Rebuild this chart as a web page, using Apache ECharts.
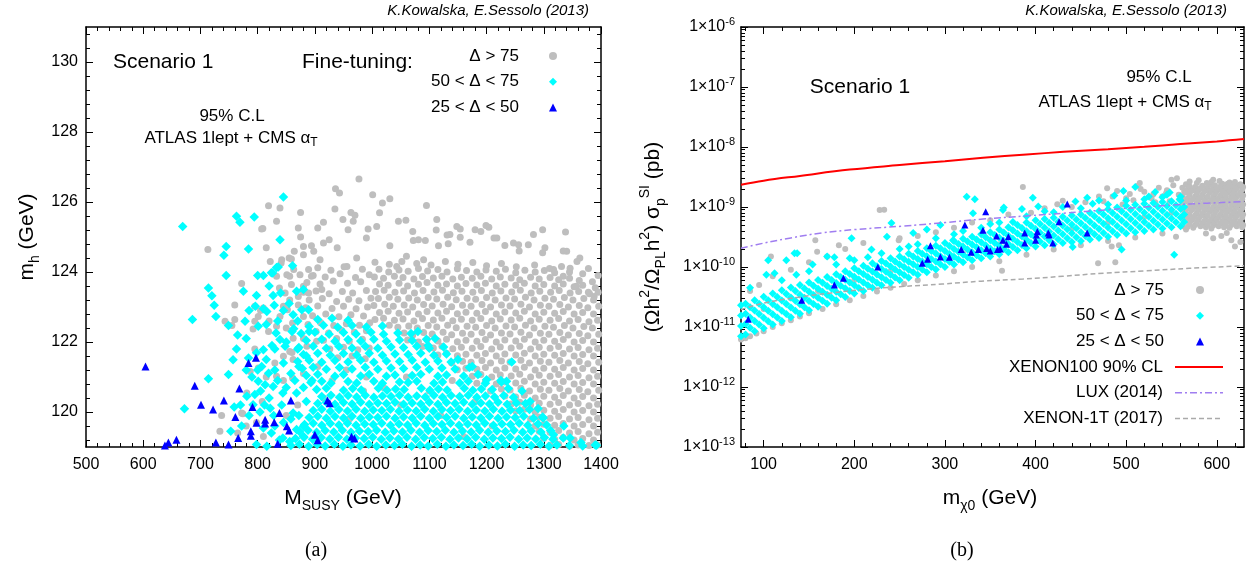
<!DOCTYPE html>
<html><head><meta charset="utf-8">
<script src="https://cdn.jsdelivr.net/npm/echarts@6/dist/echarts.min.js"></script>
<style>html,body{margin:0;padding:0;background:#fff}#c{width:1252px;height:566px}</style>
</head><body><div id="c"></div>
<script>
// ---------------- Panel (a): M_SUSY (GeV) vs m_h (GeV), flat x,y pairs ----------------
const a_grey = [
977,126.66,936,126.38,943,126.26,1001,126.21,1018,125.97,819,125.89,839,125.83,875,125.7,935,125.8,963,125.7,970,125.62,809,125.24,833,125.45,871,125.26,905,125.26,915,125.42,949,125.5,967,125.45,993,125.23,1008,125.3,713,124.64,815,124.69,875,125.0,898,124.59,925,124.92,958,125.21,990,124.97,842,124.35,859,124.37,822,124.3,851,123.92,880,124.49,863,124.07,889,124.07,909,124.35,939,124.69,956,124.16,973,124.4,772,123.67,760,123.06,743,122.59,760,122.64,792,122.37,838,123.54,852,122.92,871,123.3,737,119.9,734,119.45,774,119.95,787,121.16,1031,126.09,1013,125.69,1095,125.9,1046,125.45,1059,125.48,1113,125.5,1071,125.16,1081,124.92,1136,125.07,1154,125.23,1180,125.21,1190,125.16,1204,125.28,1218,124.97,1247,124.83,1282,125.07,1298,125.21,1338,125.14,1340,124.59,1363,124.4,1378,123.42,1388,123.3,1273,124.78,1302,124.69,1256,124.78,1171,124.85,1154,124.99,1133,124.81,1116,124.75,1090,124.35,1060,124.45,1031,124.75,1043,124.16,1317,124.07,1331,124.16,1346,124.11,1334,123.88,1357,123.59,1199,125.33,1213,124.97,1232,124.76,1257,124.6,1298,124.55,1334,124.6,1358,124.3,1112,125.2,1093,124.9,1072,124.9,1131,125.06,1148,125.3,1378,124.1,1395,123.9,
807,125.23,841,124.26,855,124.4,864,124.59,880,124.73,894,124.75,915,124.83,833,123.88,856,123.88,874,123.92,894,123.88,859,123.64,880,123.59,889,123.4,912,123.5,848,123.4,856,123.2,871,123.06,845,123.02,839,122.73,880,122.73,861,122.54,833,122.45,801,122.73,819,122.3,862,122.11,795,123.02,810,122.97,795,122.59,755,122.47,798,119.7,810,119.3,772,119.97,781,120.54,801,121.26,845,121.59,856,121.73,862,121.5,886,121.88,903,122.02,833,121.02,861,120.97,
905,124.12,928,124.05,951,124.15,983,124.08,897,123.9,918,123.86,944,123.95,971,123.84,995,123.92,886,123.7,909,123.66,932,123.74,957,123.68,980,123.72,880,123.42,902,123.46,925,123.38,948,123.44,966,123.4,990,123.47,890,123.2,913,123.24,938,123.16,959,123.22,977,123.18,998,123.25,884,122.98,905,123.03,930,122.96,950,123.02,972,122.95,992,123.0,896,122.75,919,122.8,942,122.72,963,122.78,985,122.74,888,122.5,910,122.55,933,122.47,955,122.52,978,122.48,996,122.55,902,122.3,924,122.26,947,122.33,969,122.28,990,122.32,915,122.05,938,122.1,960,122.02,983,122.08,926,121.8,950,121.85,975,121.78,995,121.83,940,121.55,965,121.6,988,121.52,
905,121.3,930,120.9,880,121.1,955,121.2,990,121.0,870,120.2,915,120.4,960,119.8,985,120.6,845,120.9,830,121.4,815,121.0,860,121.7,880,122.1,850,122.4,820,122.6,805,122.9,795,121.8,780,119.6,765,119.4,808,120.3,850,119.9,1020,120.7,1060,121.0,1100,120.6,1140,120.9,1050,120.2,1120,119.9,1180,120.3,1210,119.6,1160,119.3,
1005,124.28,1030,124.22,1052,124.3,1078,124.24,1103,124.2,1128,124.3,1150,124.22,1176,124.27,1200,124.18,1226,124.24,1252,124.15,1284,124.2,1310,124.1,
1012,124.08,1029,124.0,1047,124.06,1063,124.02,1081,124.1,1097,124.03,1115,124.07,1131,124.0,1149,124.09,1165,124.04,1183,124.0,1199,124.06,1217,124.02,1233,124.08,1251,123.98,1267,124.05,1285,124.0,1301,124.04,1319,123.98,1345,124.0,1368,123.95,
1004,123.86,1020,123.82,1039,123.88,1054,123.84,1073,123.8,1088,123.87,1107,123.83,1122,123.88,1141,123.8,1156,123.85,1175,123.82,1190,123.88,1209,123.8,1224,123.86,1243,123.83,1258,123.78,1277,123.85,1292,123.8,1311,123.84,1326,123.78,1345,123.82,1362,123.76,1385,123.72,
1013,123.66,1028,123.62,1047,123.68,1062,123.6,1081,123.65,1096,123.7,1115,123.62,1130,123.66,1149,123.6,1164,123.67,1183,123.63,1198,123.68,1217,123.6,1232,123.65,1251,123.62,1266,123.68,1285,123.6,1300,123.64,1319,123.6,1334,123.66,1353,123.58,1368,123.62,1390,123.55,
1006,123.44,1021,123.48,1040,123.42,1055,123.46,1074,123.4,1089,123.47,1108,123.43,1123,123.48,1142,123.41,1157,123.45,1176,123.42,1191,123.47,1210,123.4,1225,123.46,1244,123.43,1259,123.48,1278,123.4,1293,123.45,1312,123.42,1327,123.47,1346,123.4,1361,123.44,1380,123.38,1395,123.42,
1011,123.24,1030,123.28,1045,123.22,1064,123.26,1079,123.2,1098,123.27,1113,123.23,1132,123.28,1147,123.21,1166,123.25,1181,123.22,1200,123.27,1215,123.2,1234,123.26,1249,123.23,1268,123.28,1283,123.2,1302,123.25,1317,123.22,1336,123.27,1351,123.2,1370,123.24,1387,123.2,
1003,123.04,1022,123.08,1037,123.02,1056,123.06,1071,123.0,1090,123.07,1105,123.03,1124,123.08,1139,123.01,1158,123.05,1173,123.02,1192,123.07,1207,123.0,1226,123.06,1241,123.03,1260,123.08,1275,123.0,1294,123.05,1309,123.02,1328,123.07,1343,123.0,1362,123.04,1377,122.98,1396,123.02,
1013,122.84,1028,122.88,1047,122.82,1062,122.86,1081,122.8,1096,122.87,1115,122.83,1130,122.88,1149,122.81,1164,122.85,1183,122.82,1198,122.87,1217,122.8,1232,122.86,1251,122.83,1266,122.88,1285,122.8,1300,122.85,1319,122.82,1334,122.87,1353,122.8,1368,122.84,1387,122.8,
1005,122.64,1020,122.68,1039,122.62,1054,122.66,1073,122.6,1088,122.67,1107,122.63,1122,122.68,1141,122.61,1156,122.65,1175,122.62,1190,122.67,1209,122.6,1224,122.66,1243,122.63,1258,122.68,1277,122.6,1292,122.65,1311,122.62,1326,122.67,1345,122.6,1360,122.64,1379,122.58,1394,122.62,
1030,122.48,1045,122.42,1064,122.46,1079,122.4,1098,122.47,1113,122.43,1132,122.48,1147,122.41,1166,122.45,1181,122.42,1200,122.47,1215,122.4,1234,122.46,1249,122.43,1268,122.48,1283,122.4,1302,122.45,1317,122.42,1336,122.47,1351,122.4,1370,122.44,1385,122.4,
1056,122.26,1071,122.2,1090,122.27,1105,122.23,1124,122.28,1139,122.21,1158,122.25,1173,122.22,1192,122.27,1207,122.2,1226,122.26,1241,122.23,1260,122.28,1275,122.2,1294,122.25,1309,122.22,1328,122.27,1343,122.2,1362,122.24,1377,122.18,1396,122.22,
1062,122.06,1081,122.0,1096,122.07,1115,122.03,1130,122.08,1149,122.01,1164,122.05,1183,122.02,1198,122.07,1217,122.0,1232,122.06,1251,122.03,1266,122.08,1285,122.0,1300,122.05,1319,122.02,1334,122.07,1353,122.0,1368,122.04,1387,122.0,
1088,121.87,1107,121.83,1122,121.88,1141,121.81,1156,121.85,1175,121.82,1190,121.87,1209,121.8,1224,121.86,1243,121.83,1258,121.88,1277,121.8,1292,121.85,1311,121.82,1326,121.87,1345,121.8,1360,121.84,1379,121.78,1394,121.82,
1115,121.63,1130,121.68,1149,121.61,1164,121.65,1183,121.62,1198,121.67,1217,121.6,1232,121.66,1251,121.63,1266,121.68,1285,121.6,1300,121.65,1319,121.62,1334,121.67,1353,121.6,1368,121.64,1387,121.6,
1139,121.41,1158,121.45,1173,121.42,1192,121.47,1207,121.4,1226,121.46,1241,121.43,1260,121.48,1275,121.4,1294,121.45,1309,121.42,1328,121.47,1343,121.4,1362,121.44,1377,121.38,1396,121.42,
1149,121.21,1164,121.25,1183,121.22,1198,121.27,1217,121.2,1232,121.26,1251,121.23,1266,121.28,1285,121.2,1300,121.25,1319,121.22,1334,121.27,1353,121.2,1368,121.24,1387,121.2,
1175,121.02,1190,121.07,1209,121.0,1224,121.06,1243,121.03,1258,121.08,1277,121.0,1292,121.05,1311,121.02,1326,121.07,1345,121.0,1360,121.04,1379,120.98,1394,121.02,
1183,120.82,1198,120.87,1217,120.8,1232,120.86,1251,120.83,1266,120.88,1285,120.8,1300,120.85,1319,120.82,1334,120.87,1353,120.8,1368,120.84,1387,120.8,
1207,120.6,1226,120.66,1241,120.63,1260,120.68,1275,120.6,1294,120.65,1309,120.62,1328,120.67,1343,120.6,1362,120.64,1377,120.58,1396,120.62,
1232,120.46,1251,120.43,1266,120.48,1285,120.4,1300,120.45,1319,120.42,1334,120.47,1353,120.4,1368,120.44,1387,120.4,
1243,120.23,1258,120.28,1277,120.2,1292,120.25,1311,120.22,1326,120.27,1345,120.2,1360,120.24,1379,120.18,1394,120.22,
1251,120.03,1266,120.08,1285,120.0,1300,120.05,1319,120.02,1334,120.07,1353,120.0,1368,120.04,1387,120.0,
1277,119.8,1292,119.85,1311,119.82,1326,119.87,1345,119.8,1360,119.84,1379,119.78,1394,119.82,
1285,119.6,1300,119.65,1319,119.62,1334,119.67,1353,119.6,1368,119.64,1387,119.6,
1292,119.45,1311,119.42,1326,119.47,1345,119.4,1360,119.44,1379,119.38,1394,119.42,
1300,119.25,1319,119.22,1334,119.27,1353,119.2,1368,119.24,1387,119.2,
1311,119.05,1326,119.07,1345,119.03,1360,119.06,1379,119.04,1394,119.06
];
const a_cyan = [
669,125.3,686,122.64,672,120.09,714,123.54,720,123.32,724,123.05,727,122.73,714,120.95,745,124.73,741,124.48,745,123.9,749,122.47,749,121.07,759,120.14,753,119.45,763,125.59,769,125.42,794,125.57,784,124.66,775,123.45,778,122.59,763,121.8,757,121.49,798,123.33,801,122.45,796,123.02,810,123.9,826,123.97,836,124.14,839,124.92,845,126.14,861,124.18,827,123.33,829,123.05,810,122.95,816,122.87,832,122.26,839,122.07,848,121.88,810,121.78,798,121.69,784,121.54,830,121.8,862,122.78,868,123.45,880,123.5,877,122.92,889,122.92,863,122.38,807,121.3,819,121.11,801,120.88,813,120.78,827,120.73,844,120.54,781,120.45,792,120.21,804,120.0,822,120.11,810,119.54,824,119.4,798,119.07,816,119.02,844,119.26,856,119.16,862,119.97,880,119.59,868,120.54,824,123.98,833,124.13,
800,121.2,815,121.5,830,121.2,845,121.4,858,121.1,872,121.3,805,120.6,820,120.4,835,120.9,850,120.7,865,120.9,880,120.7,812,120.2,828,119.9,842,120.2,858,119.8,872,119.9,830,119.6,845,119.7,838,119.2,825,121.9,850,122.0,870,121.8,890,122.3,860,122.3,835,122.6,815,122.5,845,122.9,790,121.0,795,120.5,785,119.9,772,119.6,770,120.2,780,121.2,840,123.4,855,123.1,820,123.6,800,123.9,785,122.9,765,122.2,780,122.1,870,122.6,885,121.6,895,120.9,885,120.3,880,119.3,868,119.5,
858,119.04,873,119.08,889,119.02,904,119.07,918,119.03,934,119.08,949,119.02,963,119.06,979,119.03,994,119.08,1008,119.02,1024,119.06,1039,119.04,1053,119.08,1069,119.02,1084,119.06,1098,119.03,1114,119.08,1129,119.02,1143,119.06,1159,119.04,1174,119.08,1188,119.02,1204,119.06,1219,119.03,1233,119.08,1249,119.02,1264,119.06,1278,119.04,1294,119.08,1309,119.02,1323,119.06,1345,119.04,1368,119.03,1392,119.05,
866,119.24,881,119.28,896,119.22,911,119.27,926,119.23,941,119.28,956,119.22,971,119.26,986,119.24,1001,119.28,1016,119.22,1031,119.26,1046,119.23,1061,119.28,1076,119.22,1091,119.27,1106,119.24,1121,119.28,1136,119.22,1151,119.26,1166,119.23,1181,119.28,1196,119.22,1211,119.26,1226,119.24,1241,119.28,1256,119.22,1271,119.26,1286,119.23,1301,119.27,1316,119.22,1334,119.26,
873,119.44,888,119.48,903,119.42,918,119.47,933,119.43,948,119.48,963,119.42,978,119.46,993,119.44,1008,119.48,1023,119.42,1038,119.46,1053,119.43,1068,119.48,1083,119.42,1098,119.47,1113,119.44,1128,119.48,1143,119.42,1158,119.46,1173,119.43,1188,119.48,1203,119.42,1218,119.46,1233,119.44,1248,119.48,1263,119.42,1278,119.46,1295,119.43,1312,119.47,
882,119.64,897,119.68,912,119.62,927,119.67,942,119.63,957,119.68,972,119.62,987,119.66,1002,119.64,1017,119.68,1032,119.62,1047,119.66,1062,119.63,1077,119.68,1092,119.62,1107,119.67,1122,119.64,1137,119.68,1152,119.62,1167,119.66,1182,119.63,1197,119.68,1212,119.62,1227,119.66,1242,119.64,1257,119.68,1272,119.62,1290,119.66,1305,119.63,
890,119.84,905,119.88,920,119.82,935,119.87,950,119.83,965,119.88,980,119.82,995,119.86,1010,119.84,1025,119.88,1040,119.82,1055,119.86,1070,119.83,1085,119.88,1100,119.82,1115,119.87,1130,119.84,1145,119.88,1160,119.82,1175,119.86,1190,119.83,1205,119.88,1220,119.82,1235,119.86,1250,119.84,1265,119.88,1282,119.82,1298,119.86,
897,120.04,912,120.08,927,120.02,942,120.07,957,120.03,972,120.08,987,120.02,1002,120.06,1017,120.04,1032,120.08,1047,120.02,1062,120.06,1077,120.03,1092,120.08,1107,120.02,1122,120.07,1137,120.04,1152,120.08,1167,120.02,1182,120.06,1197,120.03,1212,120.08,1227,120.02,1242,120.06,1258,120.04,1275,120.07,
905,120.24,920,120.28,935,120.22,950,120.27,965,120.23,980,120.28,995,120.22,1010,120.26,1025,120.24,1040,120.28,1055,120.22,1070,120.26,1085,120.23,1100,120.28,1115,120.22,1130,120.27,1145,120.24,1160,120.28,1175,120.22,1190,120.26,1205,120.23,1220,120.28,1236,120.22,1252,120.26,1268,120.24,
912,120.44,928,120.48,943,120.42,958,120.47,973,120.43,988,120.48,1003,120.42,1018,120.46,1033,120.44,1048,120.48,1063,120.42,1078,120.46,1093,120.43,1108,120.48,1123,120.42,1138,120.47,1153,120.44,1168,120.48,1183,120.42,1198,120.46,1214,120.43,1230,120.47,1247,120.42,
903,120.64,920,120.68,950,120.62,966,120.67,981,120.63,1011,120.68,1026,120.62,1041,120.66,1056,120.64,1086,120.68,1101,120.62,1116,120.66,1131,120.63,1161,120.68,1176,120.62,1191,120.66,1210,120.64,1238,120.67,
893,120.84,912,120.88,928,120.82,958,120.87,973,120.83,1003,120.88,1018,120.82,1048,120.86,1063,120.84,1078,120.88,1108,120.82,1123,120.86,1153,120.83,1168,120.88,1198,120.82,1226,120.86,
885,121.04,905,121.08,935,121.02,950,121.07,980,121.03,995,121.08,1025,121.02,1040,121.06,1070,121.04,1085,121.08,1115,121.02,1130,121.06,1160,121.03,1185,121.07,
878,121.24,897,121.28,920,121.22,943,121.27,965,121.23,988,121.28,1010,121.22,1033,121.26,1055,121.24,1078,121.28,1100,121.22,1122,121.26,1145,121.23,1170,121.27,
870,121.44,890,121.48,912,121.42,935,121.47,958,121.43,980,121.48,1003,121.42,1025,121.46,1048,121.44,1070,121.48,1093,121.42,1115,121.46,1138,121.43,
880,121.64,905,121.68,927,121.62,950,121.67,973,121.63,995,121.68,1018,121.62,1040,121.66,1063,121.64,1085,121.68,1108,121.62,1130,121.66,
872,121.84,897,121.88,920,121.82,942,121.87,965,121.83,988,121.88,1010,121.82,1033,121.86,1055,121.84,1078,121.88,1100,121.82,1125,121.86,
885,122.04,912,122.08,935,122.02,958,122.07,980,122.03,1003,122.08,1025,122.02,1048,122.06,1070,122.04,1095,122.08,
876,122.24,900,122.28,925,122.22,950,122.27,972,122.23,998,122.28,1020,122.22,1045,122.26,1068,122.24,
890,122.44,915,122.48,940,122.42,965,122.47,990,122.43,1018,122.46,905,122.64,930,122.68,958,122.62,
1244,121.43,1276,120.3,1299,119.83,1317,119.35,1346,119.26,1365,119.13,1390,119.06,1335,119.6,1290,120.1,1262,120.6,1225,120.9,1200,120.92,1235,120.88,1150,121.5,1175,121.3,1098,121.9,1110,122.1,1080,122.3
];
const a_blue = [
604,121.3,690,120.75,701,120.21,722,120.07,741,120.33,768,120.67,761,119.86,784,121.4,797,121.55,791,120.14,798,119.69,813,119.78,813,119.67,829,119.71,838,119.97,858,120.33,851,119.59,855,119.47,788,119.45,788,119.32,766,119.26,727,119.13,749,119.07,658,119.21,644,119.13,638,119.04,835,119.09,900,119.35,905,119.19,922,120.33,926,120.25,964,119.29,969,119.24
];

// ---------------- Panel (b): m_chi0 (GeV) vs sigma, sigma in units of 1e-11 pb ----------------
const SIG_UNIT = 1e-11;
// columns: [mass, sigma values...]
const b_cyan_cols = [
[75,.7,1.04,1.55,2.3],[80,.75,1.12,1.66,2.45],[85,.97,1.44,2.14],[90,.85,1.26,1.88,2.8],[95,1.1,1.64,2.45],[100,.95,1.42,2.13,3.2],[105,1.25,1.86,2.78],[110,1.1,1.63,2.42,3.6],[115,1.44,2.13,3.16],[120,1.26,1.87,2.76,4.1],[125,1.64,2.41,3.55],[130,1.45,2.12,3.11,4.55],[135,1.87,2.73,3.98],[140,1.66,2.4,3.46,5.0],[145,2.13,3.06,4.38],[150,1.9,2.71,3.86,5.5],[155,2.42,3.43,4.87],[160,2.17,3.06,4.33,6.1],[165,2.73,3.86,5.44],[170,2.45,3.45,4.84,6.8],[175,3.08,4.33,6.08],[180,2.78,3.88,5.43,7.6],[185,3.51,4.89,6.82],[190,3.17,4.41,6.12,8.5],[195,3.98,5.52,7.64],[200,3.6,4.98,6.88,9.5],[205,4.47,6.17,8.5],[210,4.0,5.52,7.62,10.5],[215,4.98,6.84,9.39],[220,4.5,6.15,8.41,11.5],[225,5.49,7.51,10.3],[230,4.95,6.76,9.24,12.6],[235,6.08,8.31,11.4],[240,5.45,7.46,10.2,14],[245,6.66,9.09,12.4],[250,6,8.14,11.05,15],[255,7.35,9.97,13.5],[260,6.65,9.03,12.25,16.6],[265,8.16,11.07,15],[270,7.4,10.04,13.6,18.5],[275,9.09,12.33,16.7],[280,8.2,11.13,15.1,20.5],[285,10,13.6,18.4],[290,9.1,12.35,16.75,22.7],[295,11.13,15.1,20.5],[300,10,13.6,18.4,25],[305,12.2,16.5,22.4],[310,11,14.8,20,27],[315,13.3,17.9,24.2],[320,12,16.2,21.9,29.5],[325,14.5,19.6,26.5],[330,13,17.55,23.7,32],[335,15.7,21.3,28.8],[340,14,19,25.8,35],[345,16.9,23,31.3],[350,15,20.4,27.8,38],[355,18.3,25,34.2],[360,16.3,22.3,30.6,42],[365,19.9,27.4,37.6],[370,17.6,24.2,33.3,46],[375,21.5,29.6,40.9],[380,19,26.2,36.2,50],[385,23.2,32.1,44.6],[390,20.5,28.5,39.6,55],[395,25,34.9,48.7],[400,22,30.7,42.9,60],[405,26.6,37.2,52],[410,23,32.1,44.9,63],[415,27.8,38.9,54.5],[420,24,33.6,47.1,66],[425,29,40.7,57],[430,25,35,49.1,69],[435,30.2,42.4,59.5],[440,26,36.5,51.3,72],[445,31.4,44.2,62],[450,27,38,53.4,75],[455,33,46.4,65.3],[460,28.6,40.3,56.8,80],[465,35,49.4,69.9],[470,30.3,42.9,60.8,86],[475,37,52.6,74.7],[480,32,45.5,64.7,92],[485,39.4,56.1,79.6],[490,34,48.4,69,98],[495,41.8,59.6,85],[500,36,51.5,73.5,105],[505,44.2,63,89.8],[510,38,54,76.7,109],[515,46.4,65.7,93],[520,40,56.5,80,113],[525,48.7,68.7,96.8],[530,42,59.1,83.1,117],[535,51,71.6,100.5],[540,44,61.7,86.3,121],[545,53.2,74.3,104],[550,46,64.2,89.6,125],[555,55.5,77.2,107.3],[560,48,66.6,92.3,128],[564,56.5,75.1,99.8]
];
const b_cyan_extra = [
85,4.5,105,13,103,7.4,112,7.9,125,13,134,17,136,7.4,154,11,170,15,178,14.5,195,14,200,13,219,19.5,236,32,241,54,197,30,265,37,280,42,295,50,324,148,333,135,331,79,309,28,397,142,403,102,385,93,365,98,444,123,457,142,463,113,487,156,497,185,510,216,532,178,548,175,559,135,441,21.5,495,19.5,553,16,364,89,375,56,137,17,310,35,340,45,360,55,390,70,420,82,450,95,480,110,500,128,520,135,540,145,560,150,290,30,270,24,250,20,230,17,215,14.5,120,6,150,8.5,180,11,260,22,320,40,350,52,410,85,430,100,470,128,525,150,545,160
];
const b_grey_cols = [
[562,48,70,105,150,210],[564,58,85,125,180],[566,42,60,88,125,175,240],[568,47,68,98,140,200],[570,52,75,110,160,220],[572,60,88,130,185],[574,45,65,95,135,190],[576,50,72,104,150,215],[578,55,80,115,170,250],[580,62,90,132,190],[582,48,70,100,145,205],[584,53,76,110,160,225],[586,58,85,125,180],[588,46,66,95,138,195],[590,50,72,105,150,215],[592,57,83,120,172,240],[594,44,62,90,130,190,260],[596,49,70,100,145,205],[598,55,80,115,165,230],[600,62,90,130,185],[602,48,68,98,140,200],[604,53,75,108,155,220],[606,58,85,120,175,245],[608,46,66,96,136,195],[610,50,72,105,150,210],[612,58,84,122,175,245],[614,45,63,92,130,185,255],[616,50,72,104,150,210],[618,55,80,115,165,225],[620,62,90,130,185],[622,48,70,100,145,205],[624,53,77,110,158,225],[626,58,85,120,175,240],[628,46,66,95,135,195],[629,50,75,110,155,215]
];
const b_grey_extra = [
616,28,620,22,611,37,596,30,626,26,605,33,588,36,555,32,
550,285,556,300,570,265,589,250,596,285,614,230,626,232,603,270,580,280,620,262,479,205,490,185,504,165,515,250,530,163,430,127,424,111,386,215,513,226,545,190,540,150,500,140,470,150,455,120,440,100,410,95,395,80,370,75,350,60,330,55,310,45,290,38,270,33,250,30,233,90,228,89,210,25,190,20,170,15,157,28,150,12,130,9,110,7,108,15,95,5,85,4,183,23,159,18,249,28,520,180,528,140,536,210,544,170,552,230,558,160,548,125,532,120,516,200,508,130,496,110,485,150,475,125,
100,2.0,130,3.0,160,4.0,200,6.0,240,8.5,280,12,320,17,360,24,400,33,440,43,480,55,520,68,550,80,
75,.62,80,.65,85,.7,92,.78,100,.85,110,1.0,120,1.15,130,1.3,140,1.5,150,1.7,165,2.0,180,2.4,195,2.8,210,3.3,225,3.9,240,4.5,255,5.2,270,6.0,290,7.2,310,8.5,330,10,360,12.5,390,16,420,19.5,450,23,480,27,510,31,540,36,
363,8.7,469,11.5,488,12,484,22,492,23
];
const b_blue = [
83,1.35,142,2.8,178,5.0,188,6.5,226,10,275,11.6,281,13.5,284,22.5,295,14.7,305,14.5,318,19.5,322,50,329,17.6,337,19.5,342,41,345,83,346,20.4,350,18.5,357,33,358,19.5,361,20,364,28,368,24,370,32,388,25,401,34,400,28,388,37,402,39,414,37,415,34,419,25,426,57,435,112,457,37
];
// limit curves (pb)
const xenon100_x = [75,100,140,195,250,300,342,390,431,480,520,560,600,630];
const xenon100_y = [2.35e-9,2.75e-9,3.3e-9,4.2e-9,5.0e-9,5.8e-9,6.6e-9,7.5e-9,8.3e-9,9.2e-9,1.01e-8,1.12e-8,1.24e-8,1.36e-8];
const lux_x = [75,100,130,164,200,253,300,342,390,431,480,520,570,630];
const lux_y = [2.05e-10,2.5e-10,3.05e-10,3.7e-10,4.2e-10,4.8e-10,5.5e-10,6.3e-10,7.1e-10,7.9e-10,9.0e-10,1.0e-9,1.12e-9,1.23e-9];
const xenon1t_x = [75,100,142,175,209,250,297,340,386,430,475,520,570,630];
const xenon1t_y = [1.95e-11,2.5e-11,3.2e-11,3.7e-11,4.2e-11,4.7e-11,5.2e-11,5.8e-11,6.3e-11,7.0e-11,7.9e-11,8.6e-11,9.5e-11,1.05e-10];

// tick positions
const yTicksA = [120,122,124,126,128,130];
const yMinorA = [119.2,119.6,120.4,120.8,121.2,121.6,122.4,122.8,123.2,123.6,124.4,124.8,125.2,125.6,126.4,126.8,127.2,127.6,128.4,128.8,129.2,129.6,130.4,130.8];
const xTicksB = [100,200,300,400,500,600];
const xMinorB = [80,120,140,160,180,220,240,260,280,320,340,360,380,420,440,460,480,520,540,560,580,620];
const decadesB = [-13,-12,-11,-10,-9,-8,-7,-6];
const minorMantissa = [2,3,4,5,6,7,8,9];

// ---------------- build ----------------
function pairs(flat, s) { s = s || 1; const o = []; for (let i = 0; i < flat.length; i += 2) o.push([flat[i], flat[i + 1] * s]); return o; }
function cols(c, s) { const o = []; c.forEach(r => { for (let i = 1; i < r.length; i++) o.push([r[0], r[i] * s]); }); return o; }
function zip(x, y) { return x.map((v, i) => [v, y[i]]); }
const yTicksB = decadesB.map(e => Math.pow(10, e));
const yMinorB = [];
decadesB.slice(0, -1).forEach(e => minorMantissa.forEach(m => yMinorB.push(m * Math.pow(10, e))));

const FONT = "'Liberation Sans', Arial, Helvetica, sans-serif";
const LINE = { color: '#000', width: 1.5 };
const TICK = { color: '#000', width: 1 };
const LBL = { color: '#000', fontSize: 16, fontFamily: FONT, formatter: v => String(v) };

function vAxis(o) {
  const base = { type: 'value', splitLine: { show: false }, minorSplitLine: { show: false }, splitArea: { show: false }, axisPointer: { show: false } };
  return Object.assign(base, o);
}
const noLine = { show: false };
const xAxes = [
  vAxis({ gridIndex: 0, position: 'bottom', min: 500, max: 1400, interval: 100, axisLine: { onZero: false, lineStyle: LINE }, axisTick: { inside: true, length: 7, lineStyle: TICK }, minorTick: { show: true, splitNumber: 5, length: 4, lineStyle: TICK }, axisLabel: Object.assign({ margin: 10 }, LBL) }),
  vAxis({ gridIndex: 0, position: 'top', min: 500, max: 1400, interval: 100, axisLine: { onZero: false, lineStyle: LINE }, axisTick: { inside: true, length: 7, lineStyle: TICK }, minorTick: { show: true, splitNumber: 5, length: 4, lineStyle: TICK }, axisLabel: { show: false } }),
  vAxis({ gridIndex: 1, position: 'bottom', min: 75, max: 630, axisLine: { onZero: false, lineStyle: LINE }, axisTick: { inside: true, length: 7, lineStyle: TICK, customValues: xTicksB }, axisLabel: Object.assign({ margin: 10, customValues: xTicksB }, LBL) }),
  vAxis({ gridIndex: 1, position: 'bottom', min: 75, max: 630, axisLine: noLine, axisTick: { inside: true, length: 4, lineStyle: TICK, customValues: xMinorB }, axisLabel: { show: false } }),
  vAxis({ gridIndex: 1, position: 'top', min: 75, max: 630, axisLine: { onZero: false, lineStyle: LINE }, axisTick: { inside: true, length: 7, lineStyle: TICK, customValues: xTicksB }, axisLabel: { show: false } }),
  vAxis({ gridIndex: 1, position: 'top', min: 75, max: 630, axisLine: noLine, axisTick: { inside: true, length: 4, lineStyle: TICK, customValues: xMinorB }, axisLabel: { show: false } })
];
const logFmt = v => '{b|1×10}{s|' + Math.round(Math.log10(v)) + '}';
const logRich = { b: { fontSize: 16, fontFamily: FONT, color: '#000', lineHeight: 22, verticalAlign: 'middle' }, s: { fontSize: 11, fontFamily: FONT, color: '#000', lineHeight: 11, verticalAlign: 'top' } };
function lAxis(o) { return vAxis(Object.assign({ type: 'log', logBase: 10, min: 1e-13, max: 1e-6, splitNumber: 7 }, o)); }
const yAxes = [
  vAxis({ gridIndex: 0, position: 'left', min: 119, max: 131, axisLine: { onZero: false, lineStyle: LINE }, axisTick: { inside: true, length: 7, lineStyle: TICK, customValues: yTicksA }, axisLabel: Object.assign({ margin: 8, customValues: yTicksA }, LBL) }),
  vAxis({ gridIndex: 0, position: 'left', min: 119, max: 131, axisLine: noLine, axisTick: { inside: true, length: 4, lineStyle: TICK, customValues: yMinorA }, axisLabel: { show: false } }),
  vAxis({ gridIndex: 0, position: 'right', min: 119, max: 131, axisLine: { onZero: false, lineStyle: LINE }, axisTick: { inside: true, length: 7, lineStyle: TICK, customValues: yTicksA }, axisLabel: { show: false } }),
  vAxis({ gridIndex: 0, position: 'right', min: 119, max: 131, axisLine: noLine, axisTick: { inside: true, length: 4, lineStyle: TICK, customValues: yMinorA }, axisLabel: { show: false } }),
  lAxis({ gridIndex: 1, position: 'left', axisLine: { onZero: false, lineStyle: LINE }, axisTick: { inside: true, length: 7, lineStyle: TICK, customValues: yTicksB }, axisLabel: { margin: 6, customValues: yTicksB, formatter: logFmt, rich: logRich } }),
  lAxis({ gridIndex: 1, position: 'left', axisLine: noLine, axisTick: { inside: true, length: 4, lineStyle: TICK, customValues: yMinorB }, axisLabel: { show: false } }),
  lAxis({ gridIndex: 1, position: 'right', axisLine: { onZero: false, lineStyle: LINE }, axisTick: { inside: true, length: 7, lineStyle: TICK, customValues: yTicksB }, axisLabel: { show: false } }),
  lAxis({ gridIndex: 1, position: 'right', axisLine: noLine, axisTick: { inside: true, length: 4, lineStyle: TICK, customValues: yMinorB }, axisLabel: { show: false } })
];

const GREY = '#bebebe', CYAN = '#00ffff', BLUE = '#0000ff';
const N1 = 'Δ > 75', N2 = '50 < Δ < 75', N3 = '25 < Δ < 50';
function sc(name, xi, yi, data, symbol, size, color) {
  return { type: 'scatter', name, xAxisIndex: xi, yAxisIndex: yi, data, symbol, symbolSize: size, itemStyle: { color, opacity: 1 }, silent: true, progressive: 0, large: false, emphasis: { disabled: true } };
}
function ln(name, x, y, color, width, type) {
  return { type: 'line', name, xAxisIndex: 2, yAxisIndex: 4, data: zip(x, y), smooth: 0.4, symbol: 'none', showSymbol: false, lineStyle: { color, width, type }, itemStyle: { color }, silent: true, emphasis: { disabled: true } };
}
const series = [
  sc(N1, 0, 0, pairs(a_grey), 'circle', 7, GREY),
  sc(N2, 0, 0, pairs(a_cyan), 'diamond', 9.5, CYAN),
  sc(N3, 0, 0, pairs(a_blue), 'triangle', 8, BLUE),
  sc(N1, 2, 4, cols(b_grey_cols, SIG_UNIT).concat(pairs(b_grey_extra, SIG_UNIT)), 'circle', 6, GREY),
  sc(N2, 2, 4, cols(b_cyan_cols, SIG_UNIT).concat(pairs(b_cyan_extra, SIG_UNIT)), 'diamond', 8, CYAN),
  sc(N3, 2, 4, pairs(b_blue, SIG_UNIT), 'triangle', 7, BLUE),
  ln('XENON100 90% CL', xenon100_x, xenon100_y, '#ff0000', 2, 'solid'),
  ln('LUX (2014)', lux_x, lux_y, '#a07ef0', 1.5, [7, 3, 2, 3]),
  ln('XENON-1T (2017)', xenon1t_x, xenon1t_y, '#aaaaaa', 1.5, [5, 3])
];

function LT(padR) { return { fontSize: 17, fontFamily: FONT, color: '#000', lineHeight: 17, padding: [0, padR, 0, 0] }; }
const legends = [
  { orient: 'vertical', align: 'right', right: 695, top: 47.5, padding: 0, itemWidth: 8, itemHeight: 8, itemGap: 8.7, selectedMode: false, textStyle: LT(25), data: [N1, N2, N3] },
  { orient: 'vertical', align: 'right', right: 48, top: 281.5, padding: 0, itemWidth: 8, itemHeight: 8, itemGap: 8.8, selectedMode: false, textStyle: LT(27), data: [N1, N2, N3] },
  { orient: 'vertical', align: 'right', right: 28, top: 358.5, padding: 0, itemWidth: 48, itemHeight: 8, itemGap: 8.8, selectedMode: false, textStyle: LT(7), lineStyle: { width: 'inherit' },
    data: [{ name: 'XENON100 90% CL', itemStyle: { opacity: 0 } }, { name: 'LUX (2014)', itemStyle: { opacity: 0 } }, { name: 'XENON-1T (2017)', itemStyle: { opacity: 0 } }] }
];

function T(x, y, text, size, align, extra) {
  return Object.assign({ type: 'text', x, y, silent: true, style: Object.assign({ text, fontSize: size, fontFamily: FONT, fill: '#000', align: align || 'center', verticalAlign: 'middle' }, extra || {}) });
}
function R(x, y, text, rich, rot) {
  return { type: 'text', x, y, rotation: rot || 0, silent: true, style: { text, rich, fill: '#000', fontFamily: FONT, align: 'center', verticalAlign: 'middle' } };
}
const r17 = { n: { fontSize: 17, fontFamily: FONT, fill: '#000', lineHeight: 22, verticalAlign: 'middle' }, s: { fontSize: 12, fontFamily: FONT, fill: '#000', lineHeight: 12, verticalAlign: 'bottom' } };
const r21 = { n: { fontSize: 21, fontFamily: FONT, fill: '#000', lineHeight: 30, verticalAlign: 'middle' }, s: { fontSize: 14, fontFamily: FONT, fill: '#000', lineHeight: 14, verticalAlign: 'bottom' }, p: { fontSize: 14, fontFamily: FONT, fill: '#000', lineHeight: 14, verticalAlign: 'top' } };
const graphics = [
  T(589, 11, 'K.Kowalska, E.Sessolo (2013)', 15, 'right', { fontStyle: 'italic' }),
  T(1227, 11, 'K.Kowalska, E.Sessolo (2013)', 15, 'right', { fontStyle: 'italic' }),
  T(113, 62, 'Scenario 1', 21, 'left'),
  T(302, 62, 'Fine-tuning:', 21, 'left'),
  T(232, 116, '95% C.L', 17),
  R(231, 138, '{n|ATLAS 1lept + CMS α}{s|T}', r17),
  T(860, 87, 'Scenario 1', 21),
  T(1159, 77, '95% C.L', 17),
  R(1125, 102, '{n|ATLAS 1lept + CMS α}{s|T}', r17),
  R(27, 237, '{n|m}{s|h}{n| (GeV)}', r21, Math.PI / 2),
  R(343, 498, '{n|M}{s|SUSY}{n| (GeV)}', r21),
  R(653, 237, '{n|(Ωh}{p|2}{n|/Ω}{s|PL}{n|h}{p|2}{n|) σ}{s|p}{p|SI}{n| (pb)}', r21, Math.PI / 2),
  R(990, 498, '{n|m}{s|χ0}{n| (GeV)}', r21),
  T(316, 551, '(a)', 20, 'center', { fontFamily: "'Liberation Serif', 'Times New Roman', serif" }),
  T(962, 551, '(b)', 20, 'center', { fontFamily: "'Liberation Serif', 'Times New Roman', serif" })
];

const option = {
  animation: false,
  backgroundColor: '#fff',
  textStyle: { fontFamily: FONT },
  grid: [
    { left: 86, top: 27, width: 515, height: 420, containLabel: false, outerBoundsMode: 'none' },
    { left: 741, top: 27, width: 503, height: 420, containLabel: false, outerBoundsMode: 'none' }
  ],
  xAxis: xAxes,
  yAxis: yAxes,
  legend: legends,
  series,
  graphic: graphics
};
const chart = echarts.init(document.getElementById('c'), null, { renderer: 'canvas' });
chart.setOption(option);
</script></body></html>
